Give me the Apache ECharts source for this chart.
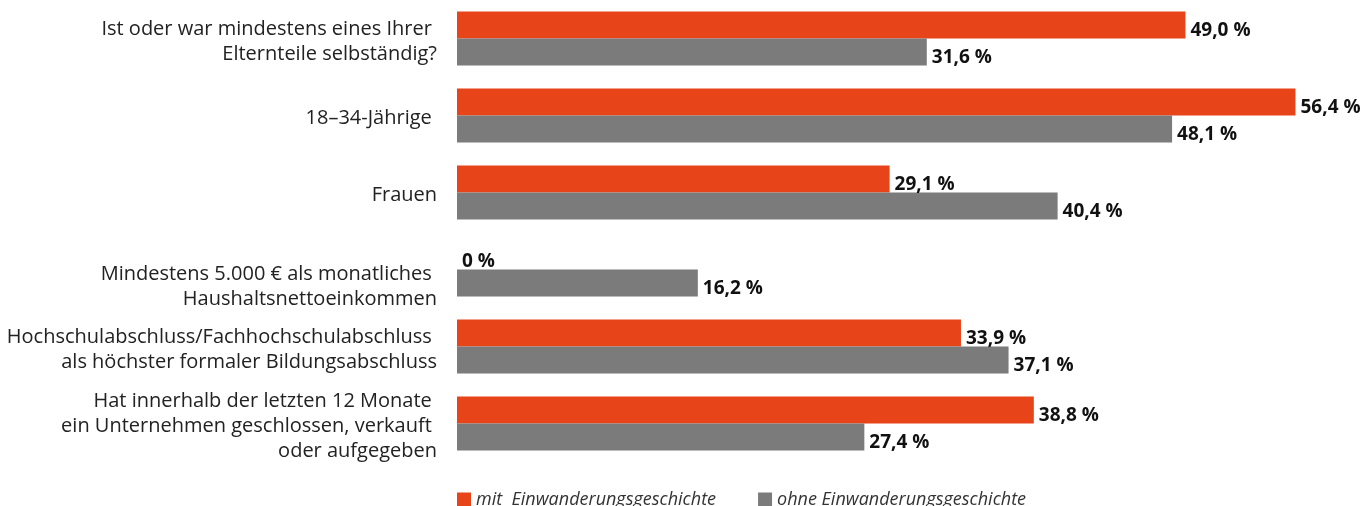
<!DOCTYPE html>
<html>
<head>
<meta charset="utf-8">
<script src="https://cdn.jsdelivr.net/npm/echarts@6/dist/echarts.min.js"></script>
<style>
  html, body { margin: 0; padding: 0; background: #fff; }
  #chart { width: 1365px; height: 506px; }
</style>
</head>
<body>
<div id="chart"></div>
<script>
// Kategorien (von oben nach unten)
const categories = [
    'Ist oder war mindestens eines Ihrer \nElternteile selbständig?',
    '18–34-Jährige ',
    'Frauen',
    'Mindestens 5.000 € als monatliches \nHaushaltsnettoeinkommen',
    'Hochschulabschluss/Fachhochschulabschluss \nals höchster formaler Bildungsabschluss',
    'Hat innerhalb der letzten 12 Monate \nein Unternehmen geschlossen, verkauft \noder aufgegeben'
];
const mitWerte = [49.0, 56.4, 29.1, 0, 33.9, 38.8];
const ohneWerte = [31.6, 48.1, 40.4, 16.2, 37.1, 27.4];
const seriesNames = ['mit  Einwanderungsgeschichte', 'ohne Einwanderungsgeschichte'];

const chart = echarts.init(document.getElementById('chart'));

// Zahlenformat deutsch: 49,0 %
function fmt(v) {
    return v === 0 ? '0 %' : v.toFixed(1).replace('.', ',') + ' %';
}

const labelStyle = {
    show: true,
    position: 'right',
    distance: 5,
    offset: [0, 6],
    color: '#111',
    fontSize: 19,
    fontWeight: 'bold',
    fontFamily: 'Open Sans',
    formatter: p => fmt(p.value)
};

chart.setOption({
    animation: false,
    textStyle: { fontFamily: 'Open Sans' },
    grid: { left: 457, right: 16, top: 0, height: 462, containLabel: false },
    legend: {
        top: 486,
        left: 452,
        itemWidth: 14,
        itemHeight: 15,
        itemGap: 42,
        icon: 'rect',
        textStyle: { fontSize: 18, fontStyle: 'italic', color: '#333', fontFamily: 'Open Sans' },
        data: seriesNames
    },
    xAxis: {
        type: 'value',
        min: 0,
        max: 60,
        show: false
    },
    yAxis: {
        type: 'category',
        inverse: true,
        data: categories,
        axisLine: { show: false },
        axisTick: { show: false },
        axisLabel: {
            margin: 20,
            fontSize: 20,
            lineHeight: 25,
            color: '#222',
            fontFamily: 'Open Sans',
            align: 'right',
            // leere Zeile oben schiebt die Texte etwas nach unten (Einkommen deutlich tiefer)
            formatter: (v, i) => (i === 3 ? '{t| }\n' : '{s| }\n') + v,
            rich: {
                s: { lineHeight: 6, fontSize: 6 },
                t: { lineHeight: 35, fontSize: 6 }
            }
        }
    },
    series: [
        {
            name: seriesNames[0],
            type: 'bar',
            data: mitWerte,
            barWidth: 27,
            barGap: '0%',
            itemStyle: { color: '#E8441A' },
            label: labelStyle
        },
        {
            name: seriesNames[1],
            type: 'bar',
            data: ohneWerte,
            barWidth: 27,
            barGap: '0%',
            itemStyle: { color: '#7B7B7C' },
            label: labelStyle
        }
    ]
});

window.addEventListener('resize', () => chart.resize());
</script>
</body>
</html>
